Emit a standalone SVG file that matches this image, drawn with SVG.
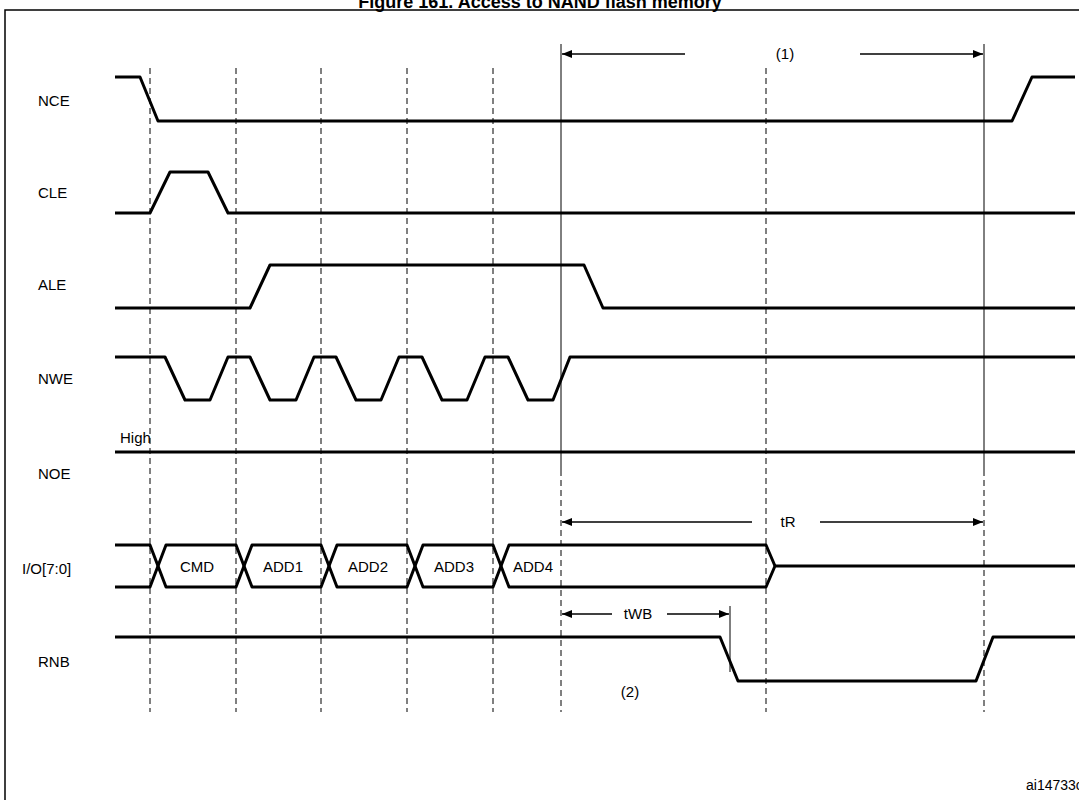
<svg xmlns="http://www.w3.org/2000/svg" width="1079" height="800" viewBox="0 0 1079 800">
<defs>
<marker id="ah" markerWidth="10" markerHeight="8" refX="10" refY="4" orient="auto-start-reverse" markerUnits="userSpaceOnUse"><path d="M0,0 L10,4 L0,8 Z" fill="#000"/></marker>
<style>
.sig{fill:none;stroke:#000;stroke-width:3;stroke-linejoin:round}
.dash{stroke:#000;stroke-width:1;stroke-dasharray:6,4}
.sol{stroke:#000;stroke-width:1}
.arr{stroke:#000;stroke-width:1.5;fill:none}
text{font-family:"Liberation Sans",Arial,sans-serif;font-size:15px;fill:#000}
</style>
</defs>
<rect width="1079" height="800" fill="#fff"/>
<text x="540" y="8" text-anchor="middle" style="font-size:18px;font-weight:bold">Figure 161. Access to NAND flash memory</text>
<rect x="5" y="10" width="1090" height="800" fill="none" stroke="#000" stroke-width="1.5"/>
<g id="grid">
<line class="dash" x1="150" y1="68" x2="150" y2="712"/>
<line class="dash" x1="236" y1="68" x2="236" y2="712"/>
<line class="dash" x1="321" y1="68" x2="321" y2="712"/>
<line class="dash" x1="407" y1="68" x2="407" y2="712"/>
<line class="dash" x1="493" y1="68" x2="493" y2="712"/>
<line class="dash" x1="766" y1="68" x2="766" y2="712"/>
<line class="dash" x1="561" y1="470" x2="561" y2="712"/>
<line class="dash" x1="984" y1="470" x2="984" y2="712"/>
<line class="sol" x1="561" y1="44" x2="561" y2="470"/>
<line class="sol" x1="984" y1="44" x2="984" y2="470"/>
<line class="sol" x1="730" y1="606" x2="730" y2="672"/>
</g>
<g id="labels">
<text x="38" y="106">NCE</text>
<text x="38" y="198">CLE</text>
<text x="38" y="290">ALE</text>
<text x="38" y="384">NWE</text>
<text x="38" y="479">NOE</text>
<text x="22" y="574">I/O[7:0]</text>
<text x="38" y="667">RNB</text>
<text x="120" y="443">High</text>
</g>
<g id="NCE"><polyline class="sig" points="115,77 140,77 158,121 1012,121 1032,77 1075,77"/></g>
<g id="CLE"><polyline class="sig" points="115,213 150,213 170,172 208,172 228,213 1075,213"/></g>
<g id="ALE"><polyline class="sig" points="115,308 250,308 270,265 584,265 603,308 1075,308"/></g>
<g id="NWE"><polyline class="sig" points="115,357 165,357 185,400 210,400 228,357 250,357 270,400 296,400 314,357 336,357 356,400 381,400 399,357 422,357 442,400 467,400 485,357 508,357 528,400 553,400 570,357 1075,357"/></g>
<g id="NOE"><line class="sig" x1="115" y1="452" x2="1075" y2="452"/></g>
<g id="IO">
<polyline class="sig" points="115,545 150,545 166,587 236,587 252,545 321,545 337,587 407,587 423,545 493,545 509,587 766,587 775,566 1075,566"/>
<polyline class="sig" points="115,587 150,587 166,545 236,545 252,587 321,587 337,545 407,545 423,587 493,587 509,545 766,545 775,566"/>
<text x="197" y="572" text-anchor="middle">CMD</text>
<text x="283" y="572" text-anchor="middle">ADD1</text>
<text x="368" y="572" text-anchor="middle">ADD2</text>
<text x="454" y="572" text-anchor="middle">ADD3</text>
<text x="533" y="572" text-anchor="middle">ADD4</text>
</g>
<g id="RNB"><polyline class="sig" points="115,637 720,637 738,681 976,681 993,637 1075,637"/></g>
<g id="connectors">
<line class="arr" x1="685" y1="54" x2="562" y2="54" marker-end="url(#ah)"/>
<line class="arr" x1="860" y1="54" x2="983" y2="54" marker-end="url(#ah)"/>
<text x="785" y="59" text-anchor="middle">(1)</text>
<line class="arr" x1="752" y1="522" x2="562" y2="522" marker-end="url(#ah)"/>
<line class="arr" x1="820" y1="522" x2="983" y2="522" marker-end="url(#ah)"/>
<text x="788" y="527" text-anchor="middle">tR</text>
<line class="arr" x1="612" y1="614" x2="562" y2="614" marker-end="url(#ah)"/>
<line class="arr" x1="667" y1="614" x2="729" y2="614" marker-end="url(#ah)"/>
<text x="638" y="619" text-anchor="middle">tWB</text>
<text x="630" y="697" text-anchor="middle">(2)</text>
</g>
<text x="1026" y="790" style="font-size:14px">ai14733c</text>
</svg>
